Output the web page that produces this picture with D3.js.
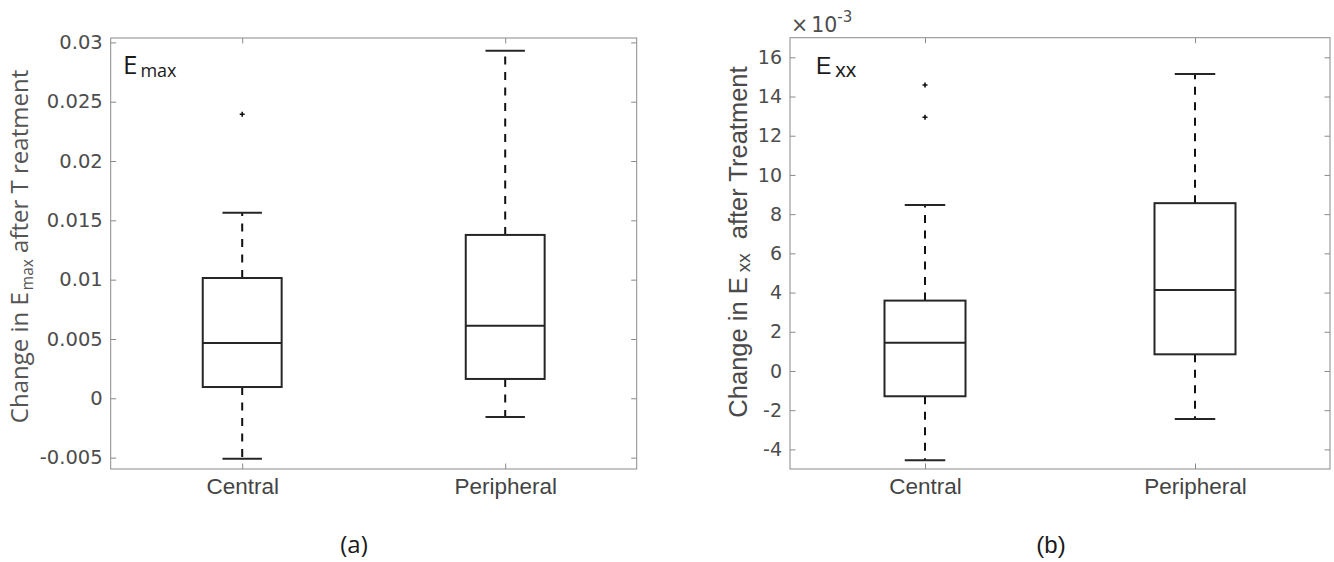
<!DOCTYPE html>
<html>
<head>
<meta charset="utf-8">
<script src="https://cdn.jsdelivr.net/npm/d3@7/dist/d3.min.js"></script>
<style>
  html, body { margin: 0; padding: 0; background: #fff; }
  svg { display: block; }
</style>
</head>
<body>
<svg id="chart" width="1334" height="562"></svg>
<script>
// ---------- DATA ----------
const categories = ["Central", "Peripheral"];

// Panel (a): change in E_max
const emaxWhiskerLow  = [-0.00509, -0.00158];
const emaxQ1          = [0.00095, 0.00163];
const emaxMedian      = [0.00466, 0.00612];
const emaxQ3          = [0.01014, 0.01377];
const emaxWhiskerHigh = [0.01565, 0.02930];
const emaxOutliers    = [[0.02394], []];
const emaxTicks       = [-0.005, 0, 0.005, 0.01, 0.015, 0.02, 0.025, 0.03];
const emaxTickLabels  = ["-0.005", "0", "0.005", "0.01", "0.015", "0.02", "0.025", "0.03"];
const emaxDomain      = [-0.00596, 0.03037];

// Panel (b): change in E_xx
const exxWhiskerLow  = [-0.00456, -0.00245];
const exxQ1          = [-0.00129, 0.00085];
const exxMedian      = [0.00144, 0.00413];
const exxQ3          = [0.00359, 0.00856];
const exxWhiskerHigh = [0.00847, 0.01515];
const exxOutliers    = [[0.01459, 0.01294], []];
const exxTicks       = [-0.004, -0.002, 0, 0.002, 0.004, 0.006, 0.008, 0.010, 0.012, 0.014, 0.016];
const exxTickLabels  = ["-4", "-2", "0", "2", "4", "6", "8", "10", "12", "14", "16"];
const exxDomain      = [-0.005, 0.017];

// ---------- DRAW ----------
const svg = d3.select("#chart");
const axisGray = "#8a8a8a";
const labelGray = "#4d4d4d";
const boxColor = "#262626";

function drawPanel(cfg) {
  const g = svg.append("g");
  const x = d3.scaleLinear().domain([0.5, 2.5]).range([cfg.left, cfg.right]);
  const y = d3.scaleLinear().domain(cfg.domain).range([cfg.bottom, cfg.top]);
  const pos = categories.map((c, i) => i + 1);

  g.append("rect")
    .attr("x", cfg.left).attr("y", cfg.top)
    .attr("width", cfg.right - cfg.left).attr("height", cfg.bottom - cfg.top)
    .attr("fill", "none").attr("stroke", axisGray).attr("stroke-width", 1);

  const tick = 5.5;
  const gl = g.append("g").attr("transform", `translate(${cfg.left},0)`)
    .call(d3.axisLeft(y).tickValues(cfg.ticks).tickFormat((d, i) => cfg.tickLabels[i])
      .tickSizeInner(-tick).tickSizeOuter(0).tickPadding(8));
  const gr = g.append("g").attr("transform", `translate(${cfg.right},0)`)
    .call(d3.axisRight(y).tickValues(cfg.ticks).tickFormat("")
      .tickSizeInner(-tick).tickSizeOuter(0));
  const gb = g.append("g").attr("transform", `translate(0,${cfg.bottom})`)
    .call(d3.axisBottom(x).tickValues(pos).tickFormat((d, i) => categories[i])
      .tickSizeInner(-tick).tickSizeOuter(0).tickPadding(9));
  const gt = g.append("g").attr("transform", `translate(0,${cfg.top})`)
    .call(d3.axisTop(x).tickValues(pos).tickFormat("")
      .tickSizeInner(-tick).tickSizeOuter(0));

  [gl, gr, gb, gt].forEach(a => {
    a.select(".domain").remove();
    a.selectAll(".tick line").attr("stroke", axisGray).attr("stroke-width", 1);
  });
  gl.selectAll(".tick text")
    .attr("font-family", "DejaVu Sans").attr("font-size", cfg.tickFont)
    .attr("fill", labelGray);
  gb.selectAll(".tick text")
    .attr("font-family", "Liberation Sans").attr("font-size", 22.5)
    .attr("fill", "#444");

  const hw = 0.15, cw = 0.075;
  pos.forEach((p, i) => {
    const bx = g.append("g");
    bx.append("line")
      .attr("x1", x(p)).attr("x2", x(p))
      .attr("y1", y(cfg.q3[i])).attr("y2", y(cfg.high[i]))
      .attr("stroke", "#111").attr("stroke-width", 2).attr("stroke-dasharray", "8,7.5");
    bx.append("line")
      .attr("x1", x(p)).attr("x2", x(p))
      .attr("y1", y(cfg.q1[i])).attr("y2", y(cfg.low[i]))
      .attr("stroke", "#111").attr("stroke-width", 2).attr("stroke-dasharray", "8,7.5");
    [cfg.high[i], cfg.low[i]].forEach(v => {
      bx.append("line")
        .attr("x1", x(p - cw)).attr("x2", x(p + cw))
        .attr("y1", y(v)).attr("y2", y(v))
        .attr("stroke", boxColor).attr("stroke-width", 2);
    });
    bx.append("rect")
      .attr("x", x(p - hw)).attr("width", x(p + hw) - x(p - hw))
      .attr("y", y(cfg.q3[i])).attr("height", y(cfg.q1[i]) - y(cfg.q3[i]))
      .attr("fill", "#fff").attr("stroke", boxColor).attr("stroke-width", 2);
    bx.append("line")
      .attr("x1", x(p - hw)).attr("x2", x(p + hw))
      .attr("y1", y(cfg.median[i])).attr("y2", y(cfg.median[i]))
      .attr("stroke", boxColor).attr("stroke-width", 2);
    cfg.outliers[i].forEach(v => {
      bx.append("path")
        .attr("transform", `translate(${x(p)},${y(v)})`)
        .attr("d", "M-2.5,0H2.5M0,-2.5V2.5")
        .attr("stroke", "#111").attr("stroke-width", 1.6);
    });
  });
  return { g, x, y };
}

drawPanel({
  left: 110.7, right: 636.7, top: 38, bottom: 469,
  domain: emaxDomain, ticks: emaxTicks, tickLabels: emaxTickLabels, tickFont: 19.5,
  low: emaxWhiskerLow, q1: emaxQ1, median: emaxMedian, q3: emaxQ3, high: emaxWhiskerHigh,
  outliers: emaxOutliers
});
drawPanel({
  left: 790, right: 1330, top: 37.7, bottom: 469,
  domain: exxDomain, ticks: exxTicks, tickLabels: exxTickLabels, tickFont: 19,
  low: exxWhiskerLow, q1: exxQ1, median: exxMedian, q3: exxQ3, high: exxWhiskerHigh,
  outliers: exxOutliers
});

// ---------- TEXT ----------
const yla = svg.append("text")
  .attr("transform", "translate(28,246.5) rotate(-90)")
  .attr("text-anchor", "middle")
  .attr("font-family", "Open Sans").attr("font-size", 24).attr("fill", "#555");
yla.append("tspan").text("Change in E");
yla.append("tspan").attr("font-size", 15.5).attr("dx", 2).attr("dy", 5).text("max");
yla.append("tspan").attr("dy", -5).text(" after T reatment");

const ylb = svg.append("text")
  .attr("transform", "translate(747,242) rotate(-90)")
  .attr("text-anchor", "middle")
  .attr("font-family", "Liberation Sans").attr("font-size", 25.5).attr("fill", "#4a4a4a");
ylb.append("tspan").text("Change in E");
ylb.append("tspan").attr("font-size", 19).attr("dy", 3).attr("dx", 5).text("xx");
ylb.append("tspan").attr("dy", -3).attr("dx", 14).text("after Treatment");

const ema = svg.append("text").attr("x", 123).attr("y", 73.5)
  .attr("font-family", "Open Sans").attr("font-size", 26).attr("fill", "#1a1a1a");
ema.append("tspan").text("E");
ema.append("tspan").attr("font-size", 18).attr("dx", 3).attr("dy", 3.5).text("max");

const exx = svg.append("text").attr("x", 816).attr("y", 74)
  .attr("font-family", "Liberation Sans").attr("font-size", 23).attr("fill", "#1a1a1a");
exx.append("tspan").text("E");
exx.append("tspan").attr("font-size", 21).attr("dx", 4).attr("dy", 3).text("xx");

const expo = svg.append("text").attr("x", 791).attr("y", 32)
  .attr("font-family", "DejaVu Sans").attr("font-size", 20.5).attr("fill", labelGray);
expo.append("tspan").text("\u00d7");
expo.append("tspan").attr("dx", 3).text("10");
expo.append("tspan").attr("font-size", 15).attr("dy", -10).text("-3");

svg.append("text").attr("x", 354).attr("y", 553).attr("text-anchor", "middle")
  .attr("font-family", "Open Sans").attr("font-size", 24).attr("fill", "#1a1a1a").text("(a)");
svg.append("text").attr("x", 1051).attr("y", 553).attr("text-anchor", "middle")
  .attr("font-family", "Liberation Sans").attr("font-size", 24).attr("fill", "#1a1a1a").text("(b)");
</script>
</body>
</html>
